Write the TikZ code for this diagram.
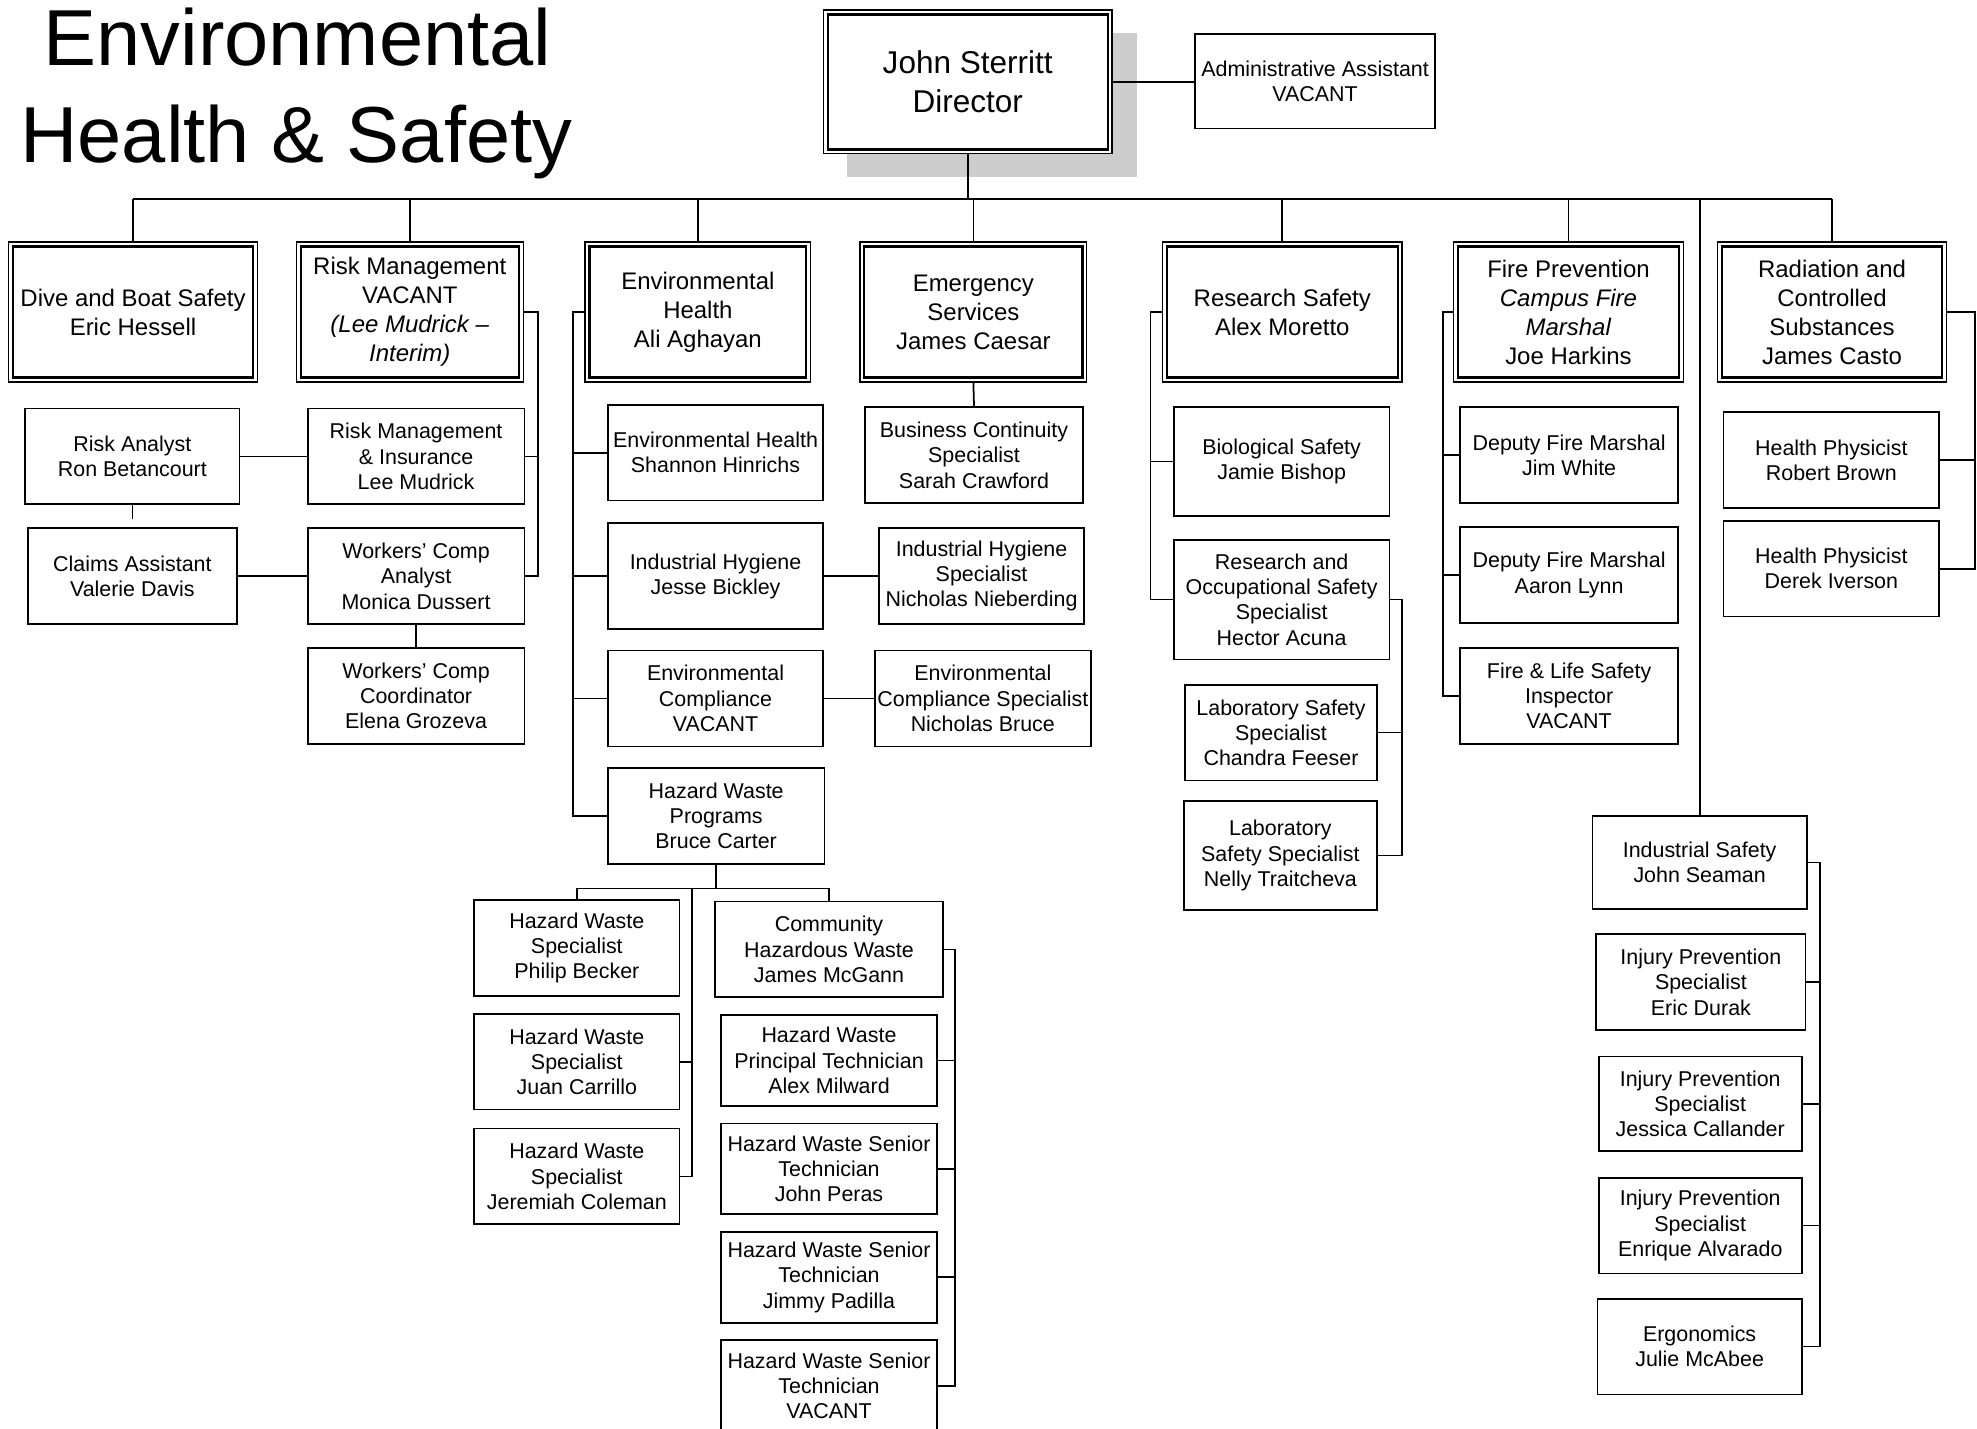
\documentclass[tikz,border=0pt]{standalone}
\usepackage{fontspec}
\setmainfont{Liberation Sans}
\newcommand{\myfs}{\fontsize{17}{20}\selectfont}
\newcommand{\myfh}{\fontsize{19}{23}\selectfont}
\newcommand{\myfd}{\fontsize{25}{31}\selectfont}
\newcommand{\myft}{\fontsize{63}{77}\selectfont}
\definecolor{shadowgray}{RGB}{205,205,205}
\begin{document}
\begin{tikzpicture}[x=1pt,y=-1pt,
  every node/.style={inner sep=0pt, align=center},
  sz/.style 2 args={minimum width=#1pt, minimum height=#2pt},
  sbox/.style={draw, line width=1.4pt, fill=white, font=\myfs},
  hbox/.style={draw, line width=1pt, fill=white, font=\myfh},
  conn/.style={line width=1.4pt},
  busline/.style={line width=1.9pt},
  inner/.style={line width=1.8pt}
]
\fill[white] (0,0) rectangle (1568,1133);
\useasboundingbox (0,0) rectangle (1568,1133);

% title
\node[font=\myft, anchor=base] (t1) at (236,52) {Environmental};
\node[font=\myft, anchor=base] (t2) at (235,129) {Health \& Safety};

% director
\fill[shadowgray] (672,26) rectangle (902,140);
\node[hbox, sz={229}{114}, font=\myfd] (dir) at (767.5,65) {John Sterritt\\Director};
\node[sbox, sz={190}{75}] (adm) at (1043,64.5) {Administrative Assistant\\VACANT};

% headers
\node[hbox, sz={197}{111}] (dive) at (105.5,247.5) {Dive and Boat Safety\\Eric Hessell};
\node[hbox, sz={180}{111}] (risk) at (325,247.5) {Risk Management\\VACANT\\\textit{(Lee Mudrick –}\\\textit{Interim)}};
\node[hbox, sz={179}{111}] (envh) at (553.5,247.5) {Environmental\\Health\\Ali Aghayan};
\node[hbox, sz={180}{111}] (emer) at (772,247.5) {Emergency\\Services\\James Caesar};
\node[hbox, sz={190}{111}] (res) at (1017,247.5) {Research Safety\\Alex Moretto};
\node[hbox, sz={182}{111}] (fire) at (1244,247.5) {Fire Prevention\\\textit{Campus Fire}\\\textit{Marshal}\\Joe Harkins};
\node[hbox, sz={182}{111}] (rad) at (1453,247.5) {Radiation and\\Controlled\\Substances\\James Casto};

\foreach \n in {dir,dive,risk,envh,emer,res,fire,rad}
  \draw[inner] ([shift={(4pt,-4pt)}]\n.north west) rectangle ([shift={(-4pt,4pt)}]\n.south east);

% risk management children
\node[sbox, sz={170}{76}] (ra) at (105,362) {Risk Analyst\\Ron Betancourt};
\node[sbox, sz={172}{76}] (rmi) at (330,362) {Risk Management\\\& Insurance\\Lee Mudrick};
\node[sbox, sz={166}{76}] (ca) at (105,457) {Claims Assistant\\Valerie Davis};
\node[sbox, sz={172}{76}] (wca) at (330,457) {Workers’ Comp\\Analyst\\Monica Dussert};
\node[sbox, sz={172}{76}] (wcc) at (330,552) {Workers’ Comp\\Coordinator\\Elena Grozeva};

% environmental health children
\node[sbox, sz={171}{76}] (eh) at (567.5,359) {Environmental Health\\Shannon Hinrichs};
\node[sbox, sz={171}{84}] (ih) at (567.5,457) {Industrial Hygiene\\Jesse Bickley};
\node[sbox, sz={171}{76}] (ec) at (567.5,554) {Environmental\\Compliance\\VACANT};
\node[sbox, sz={172}{76}] (hwp) at (568,647) {Hazard Waste\\Programs\\Bruce Carter};
\node[sbox, sz={163}{76}] (ihs) at (778.5,457) {Industrial Hygiene\\Specialist\\Nicholas Nieberding};
\node[sbox, sz={171}{76}] (ecs) at (779.5,554) {Environmental\\Compliance Specialist\\Nicholas Bruce};

% emergency
\node[sbox, sz={173}{76}] (bc) at (772.5,361) {Business Continuity\\Specialist\\Sarah Crawford};

% hazard waste
\node[sbox, sz={163}{76}] (hw1) at (457.5,752) {Hazard Waste\\Specialist\\Philip Becker};
\node[sbox, sz={163}{76}] (hw2) at (457.5,842) {Hazard Waste\\Specialist\\Juan Carrillo};
\node[sbox, sz={163}{76}] (hw3) at (457.5,933) {Hazard Waste\\Specialist\\Jeremiah Coleman};
\node[sbox, sz={181}{76}] (chw) at (657.5,753) {Community\\Hazardous Waste\\James McGann};
\node[sbox, sz={171}{72}] (hpt) at (657.5,841) {Hazard Waste\\Principal Technician\\Alex Milward};
\node[sbox, sz={171}{72}] (hs1) at (657.5,927) {Hazard Waste Senior\\Technician\\John Peras};
\node[sbox, sz={171}{72}] (hs2) at (657.5,1013) {Hazard Waste Senior\\Technician\\Jimmy Padilla};
\node[sbox, sz={171}{72}] (hs3) at (657.5,1099) {Hazard Waste Senior\\Technician\\VACANT};

% research safety
\node[sbox, sz={171}{86}] (bio) at (1016.5,366) {Biological Safety\\Jamie Bishop};
\node[sbox, sz={171}{95}] (ros) at (1016.5,475.5) {Research and\\Occupational Safety\\Specialist\\Hector Acuna};
\node[sbox, sz={152}{76}] (ls1) at (1016,581) {Laboratory Safety\\Specialist\\Chandra Feeser};
\node[sbox, sz={153}{87}] (ls2) at (1015.5,678.5) {Laboratory\\Safety Specialist\\Nelly Traitcheva};

% fire prevention
\node[sbox, sz={173}{76}] (dfm1) at (1244.5,361) {Deputy Fire Marshal\\Jim White};
\node[sbox, sz={173}{76}] (dfm2) at (1244.5,456) {Deputy Fire Marshal\\Aaron Lynn};
\node[sbox, sz={173}{76}] (fls) at (1244.5,552) {Fire \& Life Safety\\Inspector\\VACANT};

% radiation
\node[sbox, sz={171}{76}] (hp1) at (1452.5,365) {Health Physicist\\Robert Brown};
\node[sbox, sz={171}{76}] (hp2) at (1452.5,451) {Health Physicist\\Derek Iverson};

% industrial safety
\node[sbox, sz={170}{74}] (ind) at (1348,684) {Industrial Safety\\John Seaman};
\node[sbox, sz={166}{76}] (ip1) at (1349,779) {Injury Prevention\\Specialist\\Eric Durak};
\node[sbox, sz={161}{75}] (ip2) at (1348.5,875.5) {Injury Prevention\\Specialist\\Jessica Callander};
\node[sbox, sz={161}{76}] (ip3) at (1348.5,972) {Injury Prevention\\Specialist\\Enrique Alvarado};
\node[sbox, sz={162}{76}] (erg) at (1348,1068) {Ergonomics\\Julie McAbee};

% ---------- connectors ----------
\coordinate (bus) at (768,158);
\draw[busline] (dive.north |- bus) -- (rad.north |- bus);
\draw[conn] (dir.south) -- (dir.south |- bus);
\draw[conn] (dir.east) -- (dir.east -| adm.west);
\foreach \n in {dive,risk,envh,emer,res,fire,rad,ind}
  \draw[conn] (\n.north) -- (\n.north |- bus);

% risk management
\draw[conn] (risk.east) -- ++(11,0) |- (wca.east);
\draw[conn] (rmi.east) -- ++(10,0);
\draw[conn] (ra.east) -- (rmi.west);
\draw[conn] (ca.east) -- (wca.west);
\draw[conn] (ra.south) -- ++(0,11) coordinate (rastub);
\draw[conn] (wca.south) -- (wcc.north);

% environmental health
\draw[conn] (envh.west) -- ++(-9,0) |- (hwp.west);
\draw[conn] (eh.west) -- ++(-27,0);
\draw[conn] (ih.west) -- ++(-27,0);
\draw[conn] (ec.west) -- ++(-27,0);
\draw[conn] (ih.east) -- (ihs.west);
\draw[conn] (ec.east) -- (ecs.west);
\draw[conn] (emer.south) -- (bc.north);

% hazard waste
\draw[conn] (hwp.south) -- ++(0,19) coordinate (hb);
\draw[conn] (hw1.north) |- (hb) -| (chw.north);
\draw[conn] (hw3.east) -- ++(9,0) coordinate (hv) -- (hv |- hb);
\draw[conn] (hw2.east) -- ++(9,0);
\draw[conn] (chw.east) -- ++(9,0) |- (hs3.east);
\draw[conn] (hpt.east) -- ++(14,0);
\draw[conn] (hs1.east) -- ++(14,0);
\draw[conn] (hs2.east) -- ++(14,0);

% research safety
\draw[conn] (res.west) -- ++(-9,0) |- (ros.west);
\draw[conn] (bio.west) -- ++(-18,0);
\draw[conn] (ros.east) -- ++(9,0) |- (ls2.east);
\draw[conn] (ls1.east) -- ++(19,0);

% fire prevention
\draw[conn] (fire.west) -- ++(-8,0) |- (fls.west);
\draw[conn] (dfm1.west) -- ++(-13,0);
\draw[conn] (dfm2.west) -- ++(-13,0);

% radiation
\draw[conn] (rad.east) -- ++(22,0) |- (hp2.east);
\draw[conn] (hp1.east) -- ++(28,0);

% industrial safety
\draw[conn] (ind.east) -- ++(10,0) |- (erg.east);
\draw[conn] (ip1.east) -- ++(11,0);
\draw[conn] (ip2.east) -- ++(14,0);
\draw[conn] (ip3.east) -- ++(14,0);
\end{tikzpicture}
\end{document}
